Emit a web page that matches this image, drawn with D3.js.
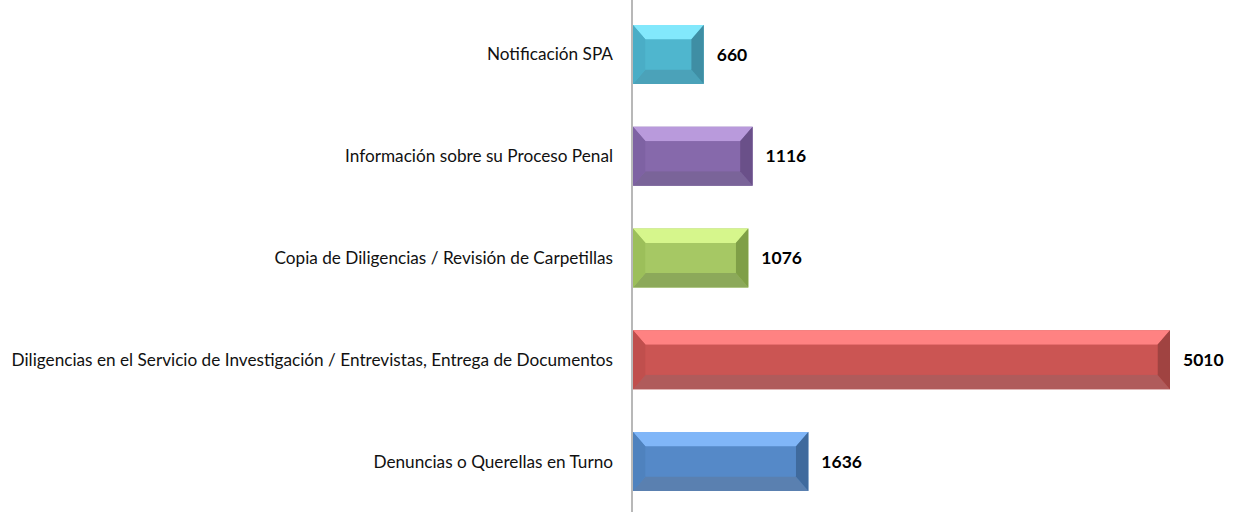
<!DOCTYPE html>
<html>
<head>
<meta charset="utf-8">
<script src="https://cdn.jsdelivr.net/npm/d3@7"></script>
<style>
  body { margin: 0; background: #fff; }
  svg { display: block; }
</style>
</head>
<body>
<svg id="chart" width="1238" height="512"></svg>
<script>
// data, top to bottom
var categories = [
  'Notificación SPA',
  'Información sobre su Proceso Penal',
  'Copia de Diligencias / Revisión de Carpetillas',
  'Diligencias en el Servicio de Investigación / Entrevistas, Entrega de Documentos',
  'Denuncias o Querellas en Turno'
];
var values = [660, 1116, 1076, 5010, 1636];
// face colours per bar: front, top, bottom, left, right
var palettes = [
  { front: '#4fb6ce', top: '#82e8fc', bottom: '#4ba2b9', left: '#4aadc6', right: '#3f8ea4' },
  { front: '#8669ab', top: '#b99adc', bottom: '#7a6499', left: '#7e62a3', right: '#6a5089' },
  { front: '#a6c864', top: '#d6f68c', bottom: '#8ca95a', left: '#9cbf5a', right: '#7f9f47' },
  { front: '#cb5553', top: '#ff8282', bottom: '#b05b5b', left: '#c04f4d', right: '#a04341' },
  { front: '#5589c8', top: '#80b6f8', bottom: '#5a80b0', left: '#4f82be', right: '#3f6a9d' }
];

var svg = d3.select('#chart');
var x0 = 632;

var x = d3.scaleLinear().domain([0, 5010]).range([x0 + 1, 1170]);
var y = d3.scaleBand().domain(categories).range([3.5, 512.5]).paddingInner(0.42).paddingOuter(0.21);

// vertical axis line
svg.append('line')
  .attr('x1', x0).attr('x2', x0)
  .attr('y1', 0).attr('y2', 512)
  .attr('stroke', '#a0a0a0').attr('stroke-width', 1.5);

var bars = svg.selectAll('g.bar')
  .data(categories.map(function(c, i) { return { cat: c, val: values[i], pal: palettes[i] }; }))
  .enter().append('g').attr('class', 'bar');

bars.each(function(d) {
  var g = d3.select(this);
  var l = x(0), r = x(d.val), t = y(d.cat), b = t + y.bandwidth();
  var bx = 12.5, by = 14.5;
  function poly(pts, fill) {
    g.append('polygon').attr('points', pts.map(function(p) { return p.join(','); }).join(' ')).attr('fill', fill);
  }
  poly([[l, t], [r, t], [r, b], [l, b]], d.pal.front);
  poly([[l, t], [r, t], [r - bx, t + by], [l + bx, t + by]], d.pal.top);
  poly([[l, b], [r, b], [r - bx, b - by], [l + bx, b - by]], d.pal.bottom);
  poly([[l, t], [l + bx, t + by], [l + bx, b - by], [l, b]], d.pal.left);
  poly([[r, t], [r - bx, t + by], [r - bx, b - by], [r, b]], d.pal.right);
  poly([[l + bx, t + by], [r - bx, t + by], [r - bx, b - by], [l + bx, b - by]], d.pal.front);
});

// category labels
svg.selectAll('text.cat')
  .data(categories)
  .enter().append('text')
  .attr('class', 'cat')
  .attr('x', x0 - 19)
  .attr('y', function(d) { return y(d) + y.bandwidth() / 2; })
  .attr('dy', '0.35em')
  .attr('text-anchor', 'end')
  .attr('font-family', 'Lato, "Open Sans", sans-serif')
  .attr('font-size', 17.2)
  .attr('fill', '#111')
  .text(function(d) { return d; });

// value labels
svg.selectAll('text.val')
  .data(values)
  .enter().append('text')
  .attr('class', 'val')
  .attr('x', function(d) { return x(d) + 13; })
  .attr('y', function(d, i) { return y(categories[i]) + y.bandwidth() / 2; })
  .attr('dy', '0.35em')
  .attr('font-family', 'Lato, "Open Sans", sans-serif')
  .attr('font-weight', 'bold')
  .attr('font-size', 17.5)
  .attr('fill', '#000')
  .text(function(d) { return d; });
</script>
</body>
</html>
